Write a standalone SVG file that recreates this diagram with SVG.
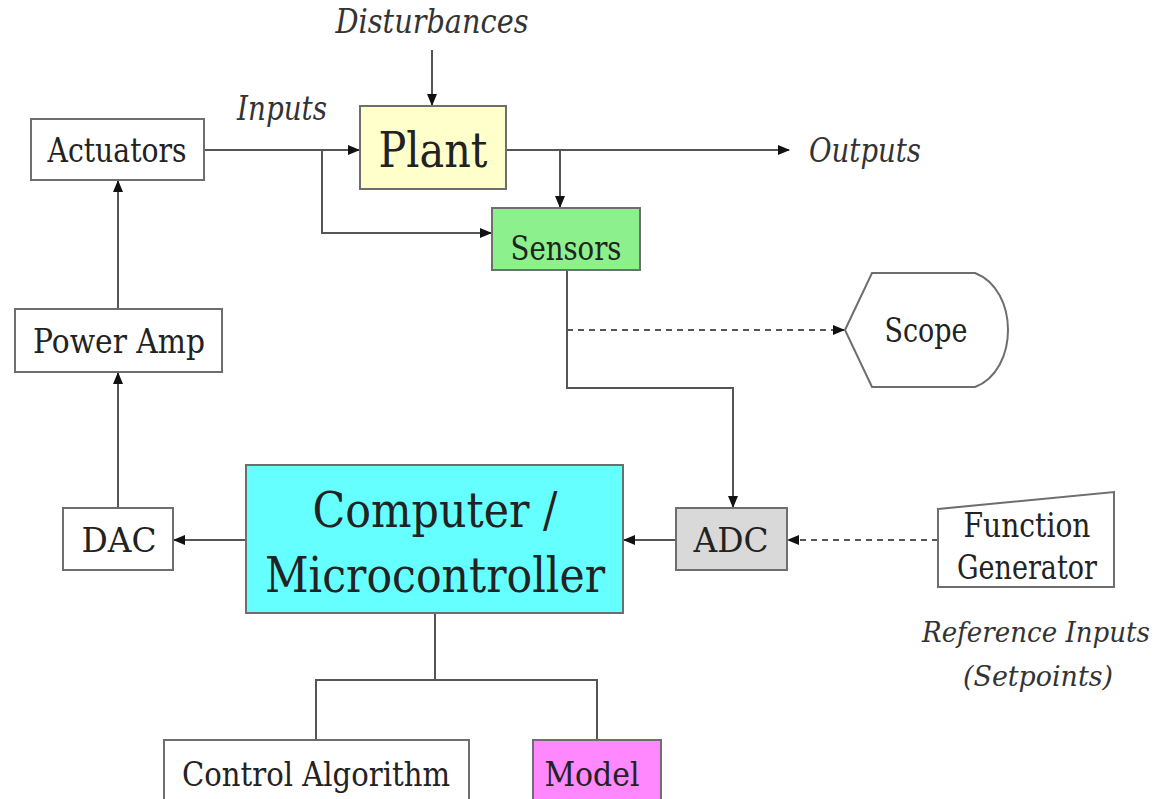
<svg xmlns="http://www.w3.org/2000/svg" width="1166" height="799" viewBox="0 0 1166 799">
<style>
.box{stroke:#6e6e6e;stroke-width:2}
.t{fill:#222;text-anchor:middle;font-size:33px}
.b{font-size:49px}
.i{font-style:italic;fill:#333;text-anchor:middle;font-size:33px}
.r{font-size:28px}
.ln{fill:none;stroke:#555;stroke-width:2}
.ds{fill:none;stroke:#555;stroke-width:2;stroke-dasharray:6 5}
</style>
<defs>
<marker id="ah" markerWidth="12" markerHeight="10" refX="11" refY="5" orient="auto" markerUnits="userSpaceOnUse">
<path d="M0,0 L12,5 L0,10 Z" fill="#111"/>
</marker>
</defs>
<rect width="1166" height="799" fill="#fff"/>
<g id="connectors">
<path class="ln" d="M432,50 V105" marker-end="url(#ah)"/>
<path class="ln" d="M204,150 H359" marker-end="url(#ah)"/>
<path class="ln" d="M322,150 V233 H491" marker-end="url(#ah)"/>
<path class="ln" d="M506,150 H789" marker-end="url(#ah)"/>
<path class="ln" d="M560,150 V207" marker-end="url(#ah)"/>
<path class="ln" d="M567,270 V388 H733 V507" marker-end="url(#ah)"/>
<path class="ds" d="M567,330 H844" marker-end="url(#ah)"/>
<path class="ln" d="M246,540 H174" marker-end="url(#ah)"/>
<path class="ln" d="M676,540 H624" marker-end="url(#ah)"/>
<path class="ds" d="M938,540 H788" marker-end="url(#ah)"/>
<path class="ln" d="M118,508 V373" marker-end="url(#ah)"/>
<path class="ln" d="M118,309 V181" marker-end="url(#ah)"/>
<path class="ln" d="M435,613 V680 M316,740 V680 H597 V740"/>
</g>
<g font-family="'DejaVu Serif', 'Liberation Serif', serif">
<g id="disturbances"><text class="i" x="432" y="33" textLength="193" lengthAdjust="spacingAndGlyphs">Disturbances</text></g>
<g id="inputs"><text class="i" x="282" y="120" textLength="90" lengthAdjust="spacingAndGlyphs">Inputs</text></g>
<g id="outputs"><text class="i" x="865" y="162" textLength="112" lengthAdjust="spacingAndGlyphs">Outputs</text></g>
<g id="actuators"><rect class="box" x="31" y="119" width="173" height="61" fill="#fff"/><text class="t" x="117" y="162" textLength="139" lengthAdjust="spacingAndGlyphs">Actuators</text></g>
<g id="plant"><rect class="box" x="360" y="106" width="146" height="83" fill="#ffffcc"/><text class="t b" x="433" y="167" textLength="109" lengthAdjust="spacingAndGlyphs">Plant</text></g>
<g id="sensors"><rect class="box" x="492" y="208" width="148" height="62" fill="#8cf08c"/><text class="t" x="566" y="260" textLength="111" lengthAdjust="spacingAndGlyphs">Sensors</text></g>
<g id="scope"><path class="box" d="M845,330 L872,273 H975 C1019,290 1019,370 975,387 H872 Z" fill="#fff"/><text class="t" x="926" y="342" textLength="83" lengthAdjust="spacingAndGlyphs">Scope</text></g>
<g id="power-amp"><rect class="box" x="15" y="309" width="207" height="63" fill="#fff"/><text class="t" x="119" y="353" textLength="172" lengthAdjust="spacingAndGlyphs">Power Amp</text></g>
<g id="dac"><rect class="box" x="63" y="508" width="110" height="62" fill="#fff"/><text class="t" x="119" y="552" textLength="75" lengthAdjust="spacingAndGlyphs">DAC</text></g>
<g id="computer"><rect class="box" x="246" y="465" width="377" height="148" fill="#66ffff"/><text class="t b" x="435" y="527" textLength="245" lengthAdjust="spacingAndGlyphs">Computer /</text><text class="t b" x="435" y="592" textLength="340" lengthAdjust="spacingAndGlyphs">Microcontroller</text></g>
<g id="adc"><rect class="box" x="676" y="508" width="111" height="62" fill="#d9d9d9"/><text class="t" x="731" y="552" textLength="75" lengthAdjust="spacingAndGlyphs">ADC</text></g>
<g id="function-generator"><path class="box" d="M938,509 L1114,492 V587 H938 Z" fill="#fff"/><text class="t" x="1027" y="537" textLength="127" lengthAdjust="spacingAndGlyphs">Function</text><text class="t" x="1027" y="579" textLength="140" lengthAdjust="spacingAndGlyphs">Generator</text></g>
<g id="reference-inputs"><text class="i r" x="1150" y="642" style="text-anchor:end" textLength="228" lengthAdjust="spacingAndGlyphs">Reference Inputs</text><text class="i r" x="1038" y="686" textLength="150" lengthAdjust="spacingAndGlyphs">(Setpoints)</text></g>
<g id="control-algorithm"><rect class="box" x="164" y="740" width="305" height="70" fill="#fff"/><text class="t" x="316" y="786" textLength="268" lengthAdjust="spacingAndGlyphs">Control Algorithm</text></g>
<g id="model"><rect class="box" x="533" y="740" width="128" height="70" fill="#ff88ff"/><text class="t" x="592" y="786" textLength="95" lengthAdjust="spacingAndGlyphs">Model</text></g>
</g>
</svg>
